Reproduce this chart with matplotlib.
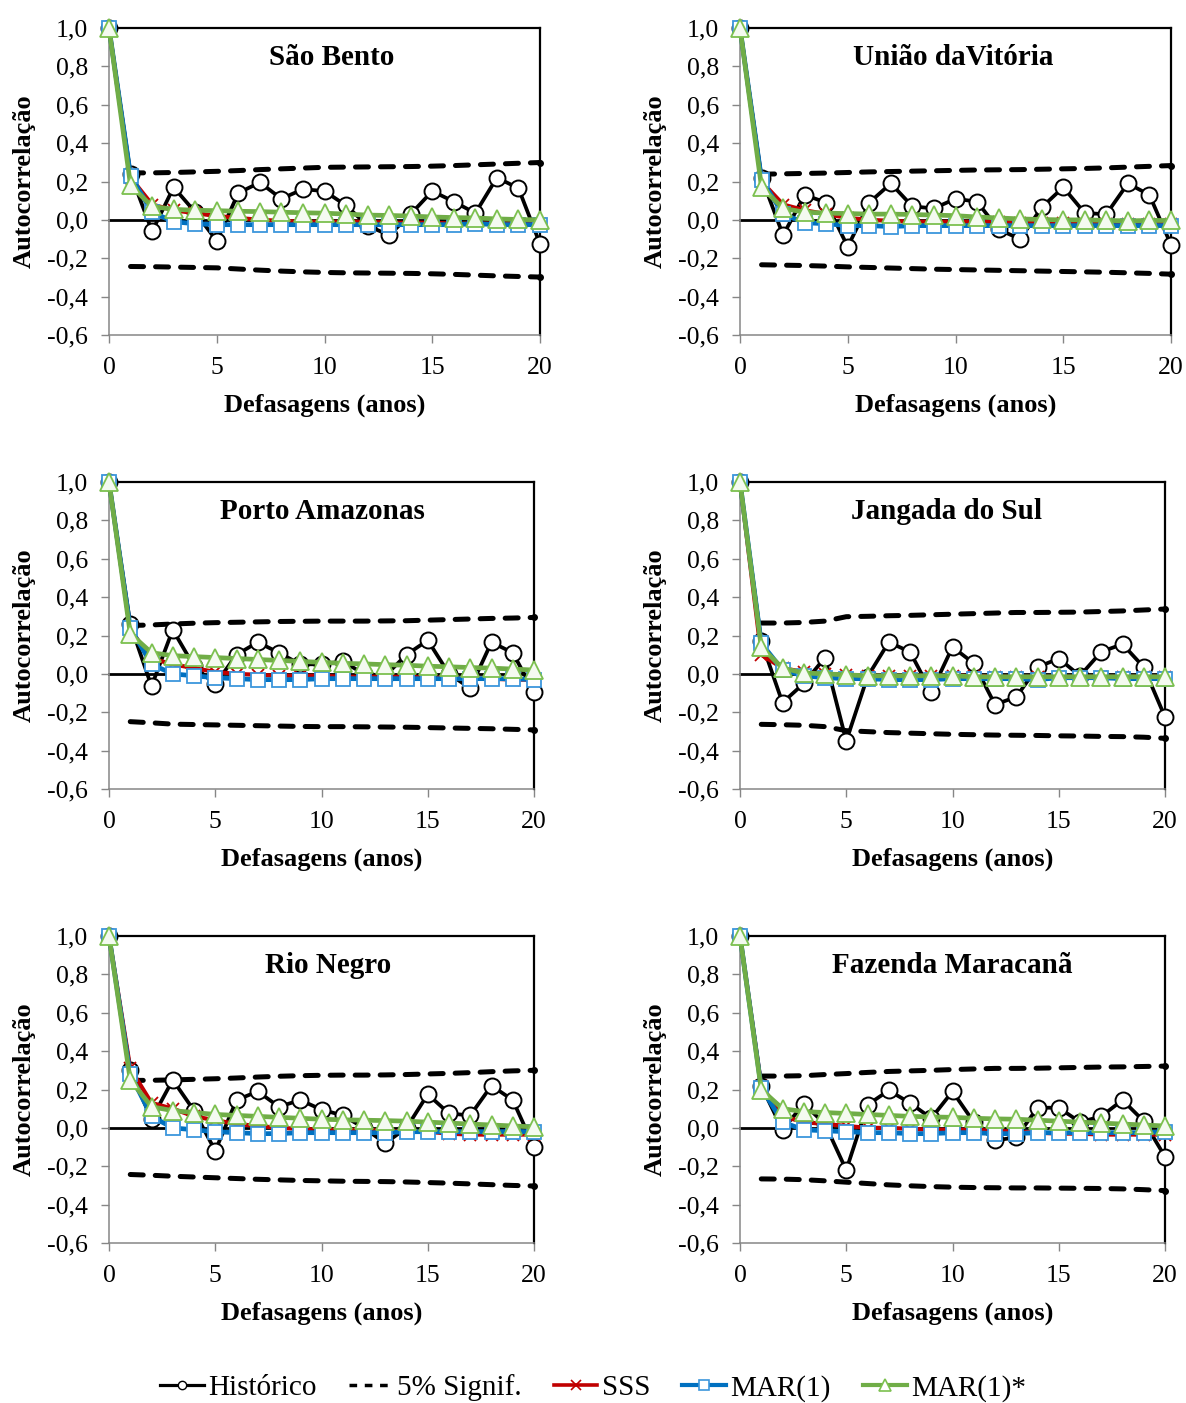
import matplotlib
matplotlib.use("Agg")
import matplotlib.pyplot as plt
from matplotlib.lines import Line2D
from matplotlib.ticker import FixedLocator, FuncFormatter

plt.rcParams['font.family'] = ['Liberation Serif', 'DejaVu Serif']

LAGS = list(range(0, 21))
SIG_LAGS = list(range(1, 21))

STATIONS = ["São Bento", "União daVitória", "Porto Amazonas",
            "Jangada do Sul", "Rio Negro", "Fazenda Maracanã"]

# --- Historical autocorrelation ---
hist_sao_bento = [1.0, 0.24, -0.06, 0.17, 0.04, -0.11, 0.14, 0.195, 0.11, 0.16, 0.15,
                  0.075, -0.03, -0.08, 0.03, 0.15, 0.095, 0.035, 0.22, 0.165, -0.125]
hist_uniao = [1.0, 0.22, -0.08, 0.13, 0.09, -0.14, 0.09, 0.19, 0.07, 0.06, 0.11,
              0.095, -0.05, -0.10, 0.065, 0.17, 0.035, 0.03, 0.19, 0.13, -0.13]
hist_porto = [1.0, 0.26, -0.065, 0.23, 0.04, -0.055, 0.10, 0.165, 0.11, 0.05, 0.05,
              0.065, 0.0, -0.01, 0.10, 0.175, 0.0, -0.075, 0.165, 0.11, -0.095]
hist_jangada = [1.0, 0.17, -0.15, -0.05, 0.085, -0.35, -0.015, 0.165, 0.115, -0.095, 0.14,
                0.055, -0.16, -0.12, 0.035, 0.08, -0.01, 0.115, 0.155, 0.035, -0.225]
hist_rio_negro = [1.0, 0.30, 0.045, 0.25, 0.09, -0.12, 0.145, 0.19, 0.11, 0.145, 0.095,
                  0.065, 0.0, -0.08, 0.0, 0.175, 0.075, 0.065, 0.22, 0.145, -0.10]
hist_fazenda = [1.0, 0.22, -0.01, 0.125, 0.02, -0.22, 0.12, 0.195, 0.13, 0.05, 0.19,
                0.03, -0.065, -0.05, 0.105, 0.105, 0.03, 0.06, 0.145, 0.035, -0.15]

# --- SSS model ---
sss_sao_bento = [1.0, 0.22, 0.08, 0.05, 0.035, 0.02, 0.01, 0.0, -0.005, -0.01, -0.01,
                 -0.01, -0.01, -0.015, -0.015, -0.015, -0.02, -0.02, -0.02, -0.02, -0.02]
sss_uniao = [1.0, 0.20, 0.08, 0.05, 0.03, 0.01, 0.0, -0.005, -0.01, -0.01, -0.01,
             -0.01, -0.01, -0.015, -0.015, -0.015, -0.02, -0.02, -0.02, -0.02, -0.02]
sss_porto = [1.0, 0.23, 0.08, 0.05, 0.03, 0.01, 0.0, -0.005, -0.01, -0.01, -0.01,
             -0.015, -0.015, -0.015, -0.015, -0.02, -0.02, -0.025, -0.025, -0.03, -0.03]
sss_jangada = [1.0, 0.10, 0.03, 0.01, 0.0, -0.005, -0.01, -0.01, -0.01, -0.01, -0.01,
               -0.01, -0.015, -0.015, -0.015, -0.015, -0.015, -0.015, -0.015, -0.015, -0.015]
sss_rio_negro = [1.0, 0.31, 0.13, 0.10, 0.06, 0.04, 0.02, 0.01, 0.0, -0.005, -0.01,
                 -0.01, -0.01, -0.015, -0.02, -0.02, -0.03, -0.035, -0.035, -0.035, -0.035]
sss_fazenda = [1.0, 0.22, 0.06, 0.03, 0.02, 0.01, 0.0, 0.0, -0.005, -0.01, -0.01,
               -0.01, -0.015, -0.02, -0.025, -0.03, -0.03, -0.035, -0.035, -0.035, -0.035]

# --- MAR(1) model ---
mar_sao_bento = [1.0, 0.23, 0.04, -0.01, -0.02, -0.025, -0.025, -0.025, -0.025, -0.025, -0.025,
                 -0.025, -0.025, -0.025, -0.025, -0.025, -0.025, -0.02, -0.025, -0.025, -0.025]
mar_uniao = [1.0, 0.21, 0.03, -0.015, -0.02, -0.03, -0.03, -0.035, -0.03, -0.03, -0.03,
             -0.03, -0.03, -0.03, -0.03, -0.03, -0.03, -0.03, -0.03, -0.03, -0.03]
mar_porto = [1.0, 0.24, 0.05, 0.0, -0.01, -0.02, -0.025, -0.03, -0.03, -0.03, -0.025,
             -0.025, -0.025, -0.025, -0.025, -0.025, -0.025, -0.025, -0.025, -0.025, -0.03]
mar_jangada = [1.0, 0.16, 0.02, -0.01, -0.02, -0.025, -0.025, -0.03, -0.03, -0.03, -0.025,
               -0.025, -0.025, -0.025, -0.03, -0.02, -0.02, -0.02, -0.025, -0.025, -0.025]
mar_rio_negro = [1.0, 0.28, 0.06, 0.0, -0.01, -0.02, -0.025, -0.03, -0.03, -0.025, -0.025,
                 -0.025, -0.025, -0.025, -0.02, -0.02, -0.02, -0.02, -0.02, -0.02, -0.02]
mar_fazenda = [1.0, 0.21, 0.03, -0.01, -0.015, -0.02, -0.025, -0.025, -0.03, -0.03, -0.025,
               -0.025, -0.03, -0.03, -0.025, -0.025, -0.025, -0.025, -0.025, -0.025, -0.02]

# --- MAR(1)* model ---
mars_sao_bento = [1.0, 0.18, 0.07, 0.055, 0.05, 0.048, 0.045, 0.043, 0.04, 0.037, 0.035,
                  0.03, 0.025, 0.023, 0.02, 0.015, 0.012, 0.01, 0.005, 0.002, 0.0]
mars_uniao = [1.0, 0.17, 0.06, 0.04, 0.035, 0.033, 0.03, 0.03, 0.028, 0.025, 0.022,
              0.015, 0.01, 0.005, 0.002, 0.0, 0.0, -0.003, -0.005, -0.003, -0.003]
mars_porto = [1.0, 0.21, 0.11, 0.095, 0.09, 0.085, 0.08, 0.075, 0.07, 0.065, 0.06,
              0.055, 0.052, 0.048, 0.045, 0.04, 0.037, 0.033, 0.03, 0.025, 0.02]
mars_jangada = [1.0, 0.14, 0.03, 0.005, 0.0, -0.005, -0.01, -0.01, -0.01, -0.01, -0.01,
                -0.015, -0.015, -0.015, -0.015, -0.015, -0.015, -0.015, -0.015, -0.015, -0.015]
mars_rio_negro = [1.0, 0.25, 0.11, 0.09, 0.08, 0.07, 0.065, 0.06, 0.055, 0.05, 0.045,
                  0.042, 0.04, 0.038, 0.035, 0.03, 0.025, 0.02, 0.015, 0.01, 0.005]
mars_fazenda = [1.0, 0.20, 0.10, 0.085, 0.08, 0.075, 0.07, 0.065, 0.06, 0.057, 0.055,
                0.05, 0.047, 0.045, 0.04, 0.035, 0.03, 0.025, 0.02, 0.015, 0.01]

# --- 5% significance bands (lags 1..20) ---
sig_up_sao_bento = [0.245, 0.245, 0.247, 0.25, 0.253, 0.257, 0.262, 0.266, 0.27, 0.274,
                    0.275, 0.276, 0.277, 0.278, 0.28, 0.283, 0.287, 0.291, 0.295, 0.299]
sig_lo_sao_bento = [-0.243, -0.244, -0.246, -0.248, -0.25, -0.256, -0.262, -0.267, -0.271, -0.274,
                    -0.276, -0.277, -0.278, -0.279, -0.281, -0.284, -0.288, -0.292, -0.295, -0.298]
sig_up_uniao = [0.238, 0.24, 0.242, 0.244, 0.247, 0.25, 0.252, 0.254, 0.256, 0.258,
                0.26, 0.261, 0.262, 0.264, 0.266, 0.268, 0.271, 0.275, 0.279, 0.283]
sig_lo_uniao = [-0.234, -0.236, -0.238, -0.241, -0.245, -0.248, -0.251, -0.254, -0.257, -0.259,
                -0.261, -0.263, -0.265, -0.267, -0.269, -0.271, -0.273, -0.276, -0.279, -0.283]
sig_up_porto = [0.252, 0.255, 0.26, 0.264, 0.267, 0.269, 0.271, 0.273, 0.274, 0.275,
                0.275, 0.275, 0.276, 0.277, 0.28, 0.283, 0.286, 0.289, 0.291, 0.294]
sig_lo_porto = [-0.249, -0.255, -0.262, -0.264, -0.266, -0.268, -0.27, -0.272, -0.274, -0.275,
                -0.275, -0.276, -0.277, -0.278, -0.28, -0.282, -0.284, -0.286, -0.289, -0.292]
sig_up_jangada = [0.265, 0.265, 0.268, 0.275, 0.298, 0.30, 0.303, 0.305, 0.308, 0.311,
                  0.314, 0.317, 0.32, 0.32, 0.321, 0.322, 0.325, 0.328, 0.333, 0.338]
sig_lo_jangada = [-0.263, -0.265, -0.268, -0.275, -0.296, -0.301, -0.306, -0.309, -0.312, -0.315,
                  -0.317, -0.319, -0.32, -0.321, -0.323, -0.324, -0.326, -0.327, -0.33, -0.336]
sig_up_rio_negro = [0.247, 0.248, 0.25, 0.253, 0.256, 0.26, 0.265, 0.269, 0.272, 0.274,
                    0.275, 0.275, 0.276, 0.278, 0.281, 0.284, 0.288, 0.293, 0.297, 0.30]
sig_lo_rio_negro = [-0.243, -0.247, -0.252, -0.256, -0.26, -0.264, -0.268, -0.271, -0.274, -0.276,
                    -0.278, -0.279, -0.28, -0.282, -0.285, -0.288, -0.292, -0.296, -0.30, -0.303]
sig_up_fazenda = [0.27, 0.27, 0.272, 0.278, 0.283, 0.289, 0.294, 0.297, 0.30, 0.304,
                  0.307, 0.31, 0.31, 0.311, 0.313, 0.315, 0.317, 0.318, 0.32, 0.322]
sig_lo_fazenda = [-0.266, -0.267, -0.27, -0.276, -0.283, -0.29, -0.297, -0.302, -0.306, -0.309,
                  -0.311, -0.312, -0.313, -0.313, -0.314, -0.315, -0.316, -0.318, -0.322, -0.327]

HIST = [hist_sao_bento, hist_uniao, hist_porto, hist_jangada, hist_rio_negro, hist_fazenda]
SSS = [sss_sao_bento, sss_uniao, sss_porto, sss_jangada, sss_rio_negro, sss_fazenda]
MAR = [mar_sao_bento, mar_uniao, mar_porto, mar_jangada, mar_rio_negro, mar_fazenda]
MARS = [mars_sao_bento, mars_uniao, mars_porto, mars_jangada, mars_rio_negro, mars_fazenda]
SIG_UP = [sig_up_sao_bento, sig_up_uniao, sig_up_porto, sig_up_jangada, sig_up_rio_negro, sig_up_fazenda]
SIG_LO = [sig_lo_sao_bento, sig_lo_uniao, sig_lo_porto, sig_lo_jangada, sig_lo_rio_negro, sig_lo_fazenda]

# colours
AXIS_GREY = "#868686"
RED = "#C00000"
BLUE = "#0070C0"
BLUE_EDGE = "#3C96DC"
GREEN = "#70AD47"
GREEN_EDGE = "#7CC04F"

FIG_W, FIG_H = 1186, 1403
# panel boxes in pixels: (left, top, right, bottom)
PANELS = [(109, 28, 540, 335), (740, 28, 1171, 335),
          (109, 482, 534, 789), (740, 482, 1165, 789),
          (109, 936, 534, 1243), (740, 936, 1165, 1243)]
TITLE_X = [0.517, 0.494, 0.503, 0.485, 0.515, 0.499]


def commaFmt(v, pos):
	return f"{v:.1f}".replace(".", ",")


def drawPanel(ax, i):
	ax.axhline(0, color="black", lw=2.0, zorder=1)

	ax.plot(LAGS, HIST[i], color="black", lw=2.7, marker="o", ms=11.5,
	        mfc="white", mec="black", mew=1.4, zorder=3)
	for band in (SIG_UP[i], SIG_LO[i]):
		ax.plot(SIG_LAGS, band, color="black", lw=3.6, dashes=(2.6, 2.4),
		        dash_capstyle="round", zorder=2)
		ax.plot(SIG_LAGS[-1], band[-1], marker="o", ms=4, color="black", zorder=2)
	ax.plot(LAGS, SSS[i], color=RED, lw=3, marker="x", ms=8, mew=1.3, zorder=4)
	ax.plot(LAGS, MAR[i], color=BLUE, lw=3.4, marker="s", ms=10.5,
	        mfc="white", mec=BLUE_EDGE, mew=1.3, zorder=5)
	ax.plot(LAGS, MARS[i], color=GREEN, lw=3.4, marker="^", ms=13,
	        mfc="#F4FAF0", mec=GREEN_EDGE, mew=1.3, zorder=6)

	ax.set_xlim(0, 20)
	ax.set_ylim(-0.6, 1.0)
	ax.xaxis.set_major_locator(FixedLocator([0, 5, 10, 15, 20]))
	ax.yaxis.set_major_locator(FixedLocator([-0.6, -0.4, -0.2, 0.0, 0.2, 0.4, 0.6, 0.8, 1.0]))
	ax.yaxis.set_major_formatter(FuncFormatter(commaFmt))
	ax.tick_params(direction="out", length=6, width=1, color=AXIS_GREY,
	               labelsize=18.5, pad=9)
	ax.tick_params(axis="x", pad=10)

	for side in ("left", "bottom"):
		ax.spines[side].set_color(AXIS_GREY)
		ax.spines[side].set_linewidth(1.1)
	for side in ("top", "right"):
		ax.spines[side].set_color("black")
		ax.spines[side].set_linewidth(1.6)

	ax.set_xlabel("Defasagens (anos)", fontsize=19, fontweight="bold", labelpad=10)
	ax.set_ylabel("Autocorrelação", fontsize=19, fontweight="bold", labelpad=8)
	ax.text(TITLE_X[i], 0.905, STATIONS[i], transform=ax.transAxes,
	        ha="center", va="center", fontsize=21, fontweight="bold")
	for a in ax.lines:
		a.set_clip_on(False)


fig = plt.figure(figsize=(FIG_W / 100, FIG_H / 100), dpi=100)
for i, (l, t, r, b) in enumerate(PANELS):
	ax = fig.add_axes([l / FIG_W, 1 - b / FIG_H, (r - l) / FIG_W, (b - t) / FIG_H])
	drawPanel(ax, i)

handles = [
	Line2D([], [], color="black", lw=2.3, marker="o", ms=6, mfc="white", mec="black", mew=1),
	Line2D([], [], color="black", lw=2.5, dashes=(2.2, 2.2)),
	Line2D([], [], color=RED, lw=2.6, marker="x", ms=7, mew=1.2),
	Line2D([], [], color=BLUE, lw=3, marker="s", ms=7, mfc="white", mec=BLUE_EDGE, mew=1.2),
	Line2D([], [], color=GREEN, lw=3, marker="^", ms=8, mfc="white", mec=GREEN_EDGE, mew=1.2),
]
labels = ["Histórico", "5% Signif.", "SSS", "MAR(1)", "MAR(1)*"]
fig.legend(handles, labels, loc="center", bbox_to_anchor=(0.5, 1 - 1388 / FIG_H),
           ncol=5, frameon=False, fontsize=21, handlelength=1.5, handletextpad=0.15,
           columnspacing=1.1)

fig.savefig("out.png", dpi=100)
